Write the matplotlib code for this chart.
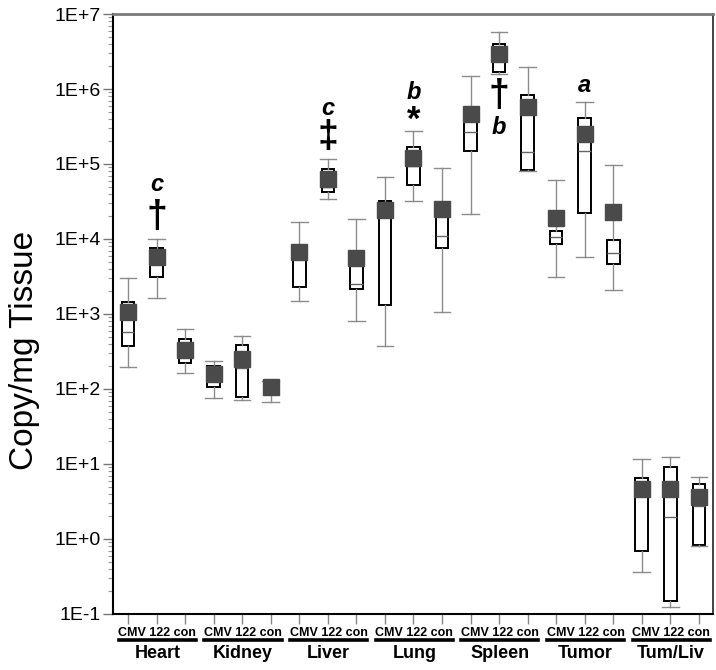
import math
import matplotlib
matplotlib.use("Agg")
import matplotlib.pyplot as plt
import matplotlib.ticker as ticker
import matplotlib.transforms as transforms
from matplotlib.lines import Line2D

plt.rcParams['font.family'] = ['Liberation Sans', 'DejaVu Sans']

groups = ['Heart', 'Kidney', 'Liver', 'Lung', 'Spleen', 'Tumor', 'Tum/Liv']
treatments = ['CMV', '122', 'con']
y_decades = [-1, 0, 1, 2, 3, 4, 5, 6, 7]

# box statistics per box, in order group x treatment
whis_lo = [197, 1650, 165, 77, 71, 67, 1510, 34100, 800, 378, 32400, 1070,
           21300, 1.6e6, 80700, 3140, 5810, 2070, 0.36, 0.124, 0.8]
q1 = [374, 3080, 224, 107, 78, 88, 2310, 42700, 2130, 1318, 53000, 7590,
      149000, 1.67e6, 83200, 8580, 22400, 4640, 0.7, 0.15, 0.82]
median = [575, 6500, 270, 129, 189, 105, 5410, 49800, 2540, 27000, 94800, 11000,
          267000, 2.6e6, 146000, 10500, 150000, 6440, 5.0, 1.96, 2.75]
q3 = [1445, 7500, 460, 205, 390, 125, 7500, 85700, 5000, 32100, 168000, 20000,
      450000, 4.0e6, 832000, 12900, 406000, 9600, 6.5, 9.1, 5.4]
whis_hi = [3050, 9900, 625, 236, 509, 129, 16700, 115600, 18700, 67700, 273000, 87500,
           1.5e6, 5.7e6, 1.98e6, 60600, 677000, 98000, 11.5, 12.3, 6.7]
mean = [1063, 5800, 331, 157, 249, 106, 6780, 63000, 5630, 24300, 121000, 24900,
        464000, 2.93e6, 581000, 18900, 251000, 23100, 4.6, 4.7, 3.6]

# significance marks: (box index, text, value, size, italic)
marks = [
    (1, 'c', 54000, 17, True), (1, '\u2020', 19600, 27, False),
    (7, 'c', 558000, 17, True), (7, '\u2021', 229000, 27, False),
    (10, 'b', 885000, 17, True), (10, '*', 386000, 25, False),
    (13, '\u2020', 807000, 27, False), (13, 'b', 302000, 17, True),
    (16, 'a', 1.13e6, 17, True),
]

fig = plt.figure(figsize=(7.16, 6.7), dpi=100)
ax = fig.add_axes([0.158, 0.0836, 0.838, 0.8955])

stats = []
for i in range(len(mean)):
    stats.append(dict(whislo=whis_lo[i], q1=q1[i], med=median[i], q3=q3[i],
                      whishi=whis_hi[i], mean=mean[i], fliers=[]))

positions = list(range(len(stats)))
ax.bxp(stats, positions=positions, widths=0.44, showmeans=True, patch_artist=True,
       boxprops=dict(facecolor='white', edgecolor='black', linewidth=1.4),
       medianprops=dict(color='#666666', linewidth=1.0),
       whiskerprops=dict(color='#8c8c8c', linewidth=1.0),
       capprops=dict(color='#8c8c8c', linewidth=1.0),
       capwidths=0.58,
       meanprops=dict(marker='s', markersize=11, markerfacecolor='#4a4a4a',
                      markeredgecolor='#4a4a4a', zorder=5))

ax.set_yscale('log')
ax.set_ylim(0.1, 1e7)
ax.set_xlim(-0.52, 20.5)

major = [10.0 ** d for d in y_decades]
minor = [m * 10.0 ** d for d in y_decades[:-1] for m in range(2, 10)]
ax.yaxis.set_major_locator(ticker.FixedLocator(major))
ax.yaxis.set_minor_locator(ticker.FixedLocator(minor))
ax.yaxis.set_major_formatter(ticker.FixedFormatter(['1E%+d' % d for d in y_decades]))
ax.yaxis.set_minor_formatter(ticker.NullFormatter())
ax.tick_params(axis='y', which='major', length=7, width=1, color='#777777',
               labelsize=14, pad=2)
ax.tick_params(axis='y', which='minor', length=3.5, width=0.8, color='#999999')

ax.set_xticks(positions)
ax.set_xticklabels([])
ax.tick_params(axis='x', which='major', length=7, width=1, color='#888888')

for side in ['left', 'bottom']:
    ax.spines[side].set_linewidth(1.5)
    ax.spines[side].set_color('black')
ax.spines['top'].set_color('#7a7a7a')
ax.spines['top'].set_linewidth(2)
ax.spines['right'].set_color('#222222')
ax.spines['right'].set_linewidth(1.2)

ax.set_ylabel('Copy/mg Tissue', fontsize=24)
ax.yaxis.set_label_coords(-0.122, 0.44)

trans = transforms.blended_transform_factory(ax.transData, ax.transAxes)
for g, name in enumerate(groups):
    center = g * 3 + 1
    ax.text(center + 0.03, -0.032, ' '.join(treatments), transform=trans,
            ha='center', va='center', fontsize=9, fontweight='bold')
    ax.add_line(Line2D([center - 1.32, center + 1.38], [-0.044, -0.044],
                       transform=trans, color='black', linewidth=2.6, clip_on=False))
    ax.text(center + 0.03, -0.066, name, transform=trans, ha='center', va='center',
            fontsize=13, fontweight='bold')

for idx, txt, val, size, italic in marks:
    ax.text(idx, val, txt, ha='center', va='center', fontsize=size,
            fontweight='bold', fontstyle='italic' if italic else 'normal')

fig.savefig('out.png', dpi=100)
